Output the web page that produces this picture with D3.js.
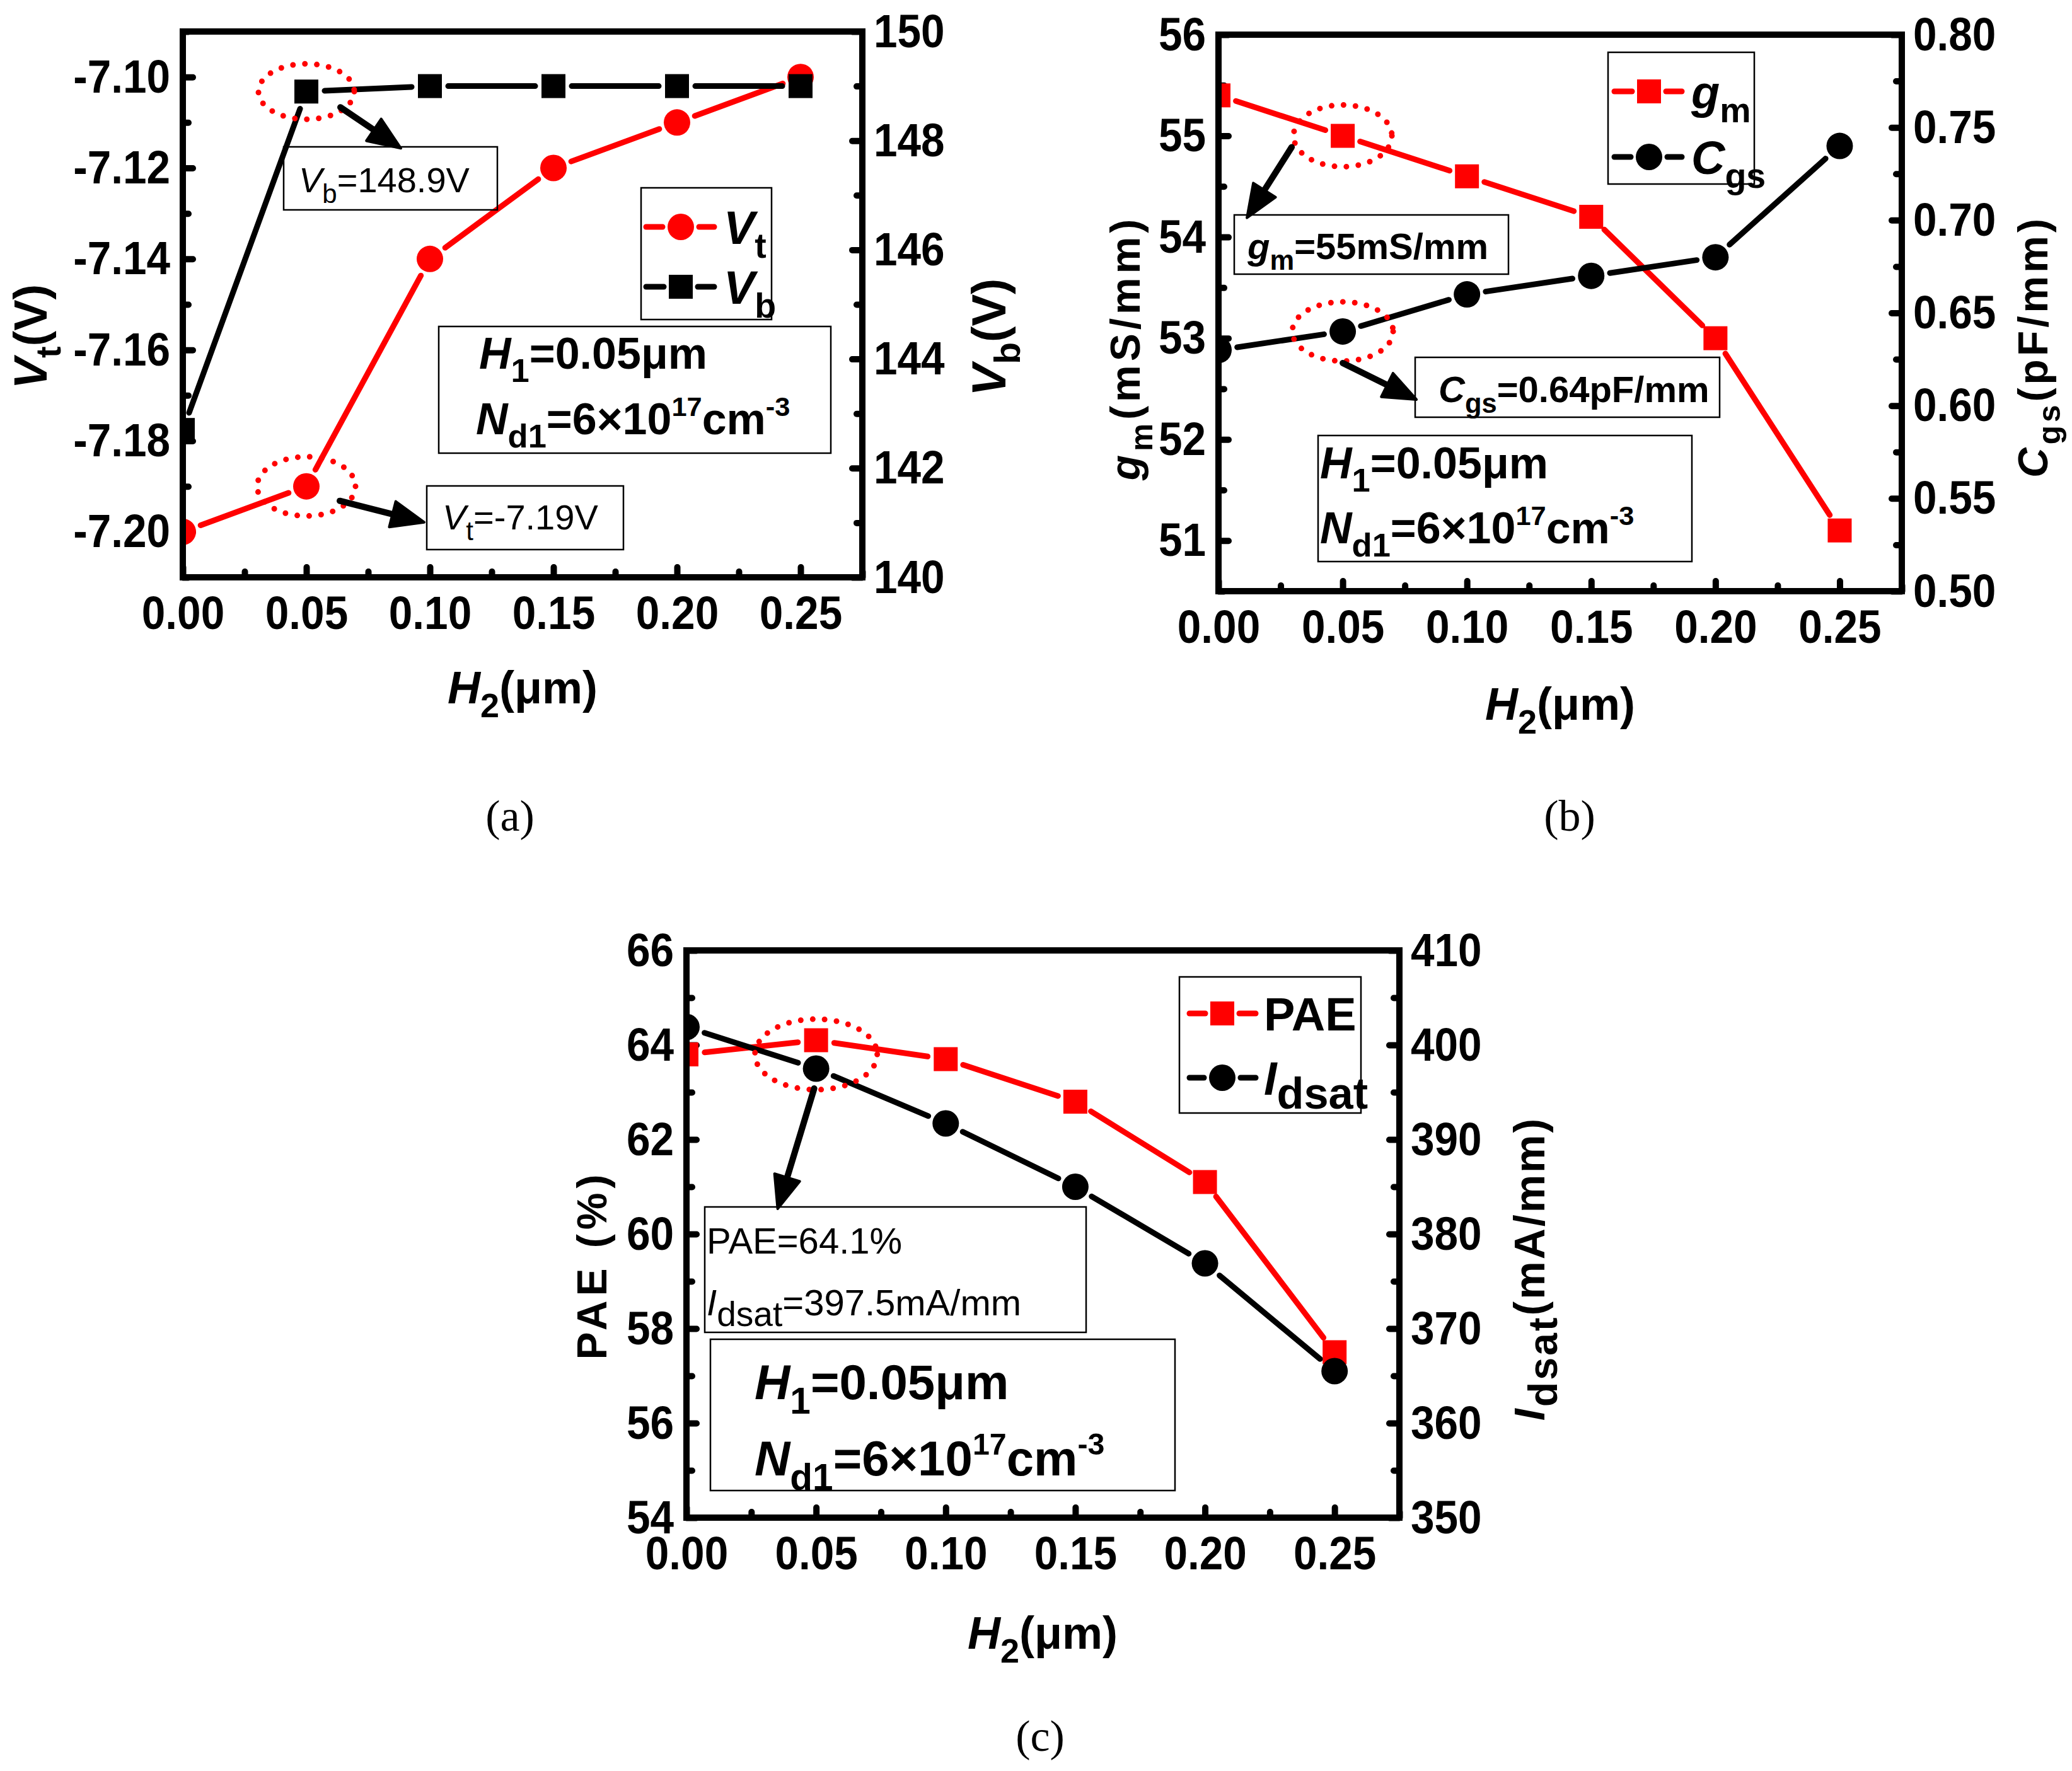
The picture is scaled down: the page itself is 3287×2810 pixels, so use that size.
<!DOCTYPE html>
<html>
<head>
<meta charset="utf-8">
<script src="https://cdn.jsdelivr.net/npm/d3@7"></script>
<style>
  body { margin: 0; background: #fff; }
  svg { display: block; }
</style>
</head>
<body>
<div id="chart"></div>
<script>
// H2 values shared by all three panels
const h2 = [0, 0.05, 0.1, 0.15, 0.2, 0.25];

// (a) threshold voltage and breakdown voltage
const vt = [-7.2, -7.19, -7.14, -7.12, -7.11, -7.1];
const vb = [142.7, 148.9, 149.0, 149.0, 149.0, 149.0];

// (b) transconductance and gate capacitance
const gm = [55.4, 55.0, 54.6, 54.2, 53.0, 51.1];
const cgs = [0.63, 0.64, 0.66, 0.67, 0.68, 0.74];

// (c) PAE and saturation current
const pae = [63.8, 64.1, 63.7, 62.8, 61.1, 57.5];
const idsat = [401.9, 397.5, 391.7, 385.0, 376.9, 365.5];

// tick labels
const xTicks = [0, 0.05, 0.1, 0.15, 0.2, 0.25];
const vtTicks = [-7.2, -7.18, -7.16, -7.14, -7.12, -7.1];
const vbTicks = [140, 142, 144, 146, 148, 150];
const gmTicks = [51, 52, 53, 54, 55, 56];
const cgsTicks = [0.5, 0.55, 0.6, 0.65, 0.7, 0.75, 0.8];
const paeTicks = [54, 56, 58, 60, 62, 64, 66];
const idsatTicks = [350, 360, 370, 380, 390, 400, 410];

const width = 3287;
const height = 2810;
const RED = "#ff0000";
const FONT = "'Liberation Sans', Arial, sans-serif";
const R = 21; // circle marker radius
const S = 38; // square marker side
const TICK_FS = 75; // tick label size
const SQUEEZE = 0.9; // tick labels are a bit condensed in the original

const svg = d3
  .select("#chart")
  .append("svg")
  .attr("width", width)
  .attr("height", height)
  .attr("viewBox", `0 0 ${width} ${height}`)
  .attr("font-family", FONT);

svg.append("rect").attr("width", width).attr("height", height).attr("fill", "#fff");

// text with italic / sub / superscript runs
// flags: i italic, s subscript, S large subscript, ^ superscript
function rich(text, parts, size) {
  let shift = 0;
  for (const [str, f = ""] of parts) {
    let fs = size;
    let off = 0;
    if (f.includes("s")) { fs = size * 0.75; off = size * 0.3; }
    if (f.includes("S")) { fs = size * 0.95; off = size * 0.3; }
    if (f.includes("^")) { fs = size * 0.62; off = -size * 0.42; }
    text
      .append("tspan")
      .attr("dy", off - shift)
      .attr("font-size", fs)
      .attr("font-style", f.includes("i") ? "italic" : null)
      .text(str);
    shift = off;
  }
  return text;
}

function label(g, x, y, parts, size, opts = {}) {
  const t = g
    .append("text")
    .attr("x", x)
    .attr("y", y)
    .attr("font-size", size)
    .attr("font-weight", opts.weight || "bold")
    .attr("text-anchor", opts.anchor || "start")
    .attr("letter-spacing", opts.spacing || null);
  if (opts.rotate) {
    t.attr("x", 0).attr("y", 0).attr("transform", `translate(${x},${y}) rotate(-90)`);
  }
  return rich(t, parts, size);
}

function minorOf(ticks, domain) {
  const step = ticks[1] - ticks[0];
  const out = [];
  for (let v = ticks[0] - step / 2; v <= domain[1] + 1e-9; v += step) {
    if (v >= domain[0] - 1e-9) out.push(v);
  }
  return out;
}

// 1) panel frame, scales and axes
function makePanel(id, frame, yl, yr) {
  const g = svg.append("g").attr("transform", `translate(${frame.x},${frame.y})`);
  const x = d3.scaleLinear().domain([0, 0.275]).range([0, frame.w]);
  const yL = d3.scaleLinear().domain(yl.domain).range([frame.h, 0]);
  const yR = d3.scaleLinear().domain(yr.domain).range([frame.h, 0]);

  g.append("clipPath")
    .attr("id", "clip-" + id)
    .append("rect")
    .attr("width", frame.w)
    .attr("height", frame.h);

  const axes = [
    [d3.axisBottom(x), xTicks, (d) => d.toFixed(2), `translate(0,${frame.h})`, 29, [0, 0.275], 0],
    [d3.axisLeft(yL), yl.ticks, yl.fmt, null, 20, yl.domain, -1],
    [d3.axisRight(yR), yr.ticks, yr.fmt, `translate(${frame.w},0)`, 18, yr.domain, 1],
  ];
  for (const [ax, ticks, fmt, tr, pad, dom, side] of axes) {
    const minor = g
      .append("g")
      .attr("transform", tr)
      .call(ax.tickValues(minorOf(ticks, dom)).tickSize(-9).tickFormat(""));
    const major = g
      .append("g")
      .attr("transform", tr)
      .call(ax.tickValues(ticks).tickSize(-16).tickPadding(pad).tickFormat(fmt));
    for (const a of [minor, major]) {
      a.select(".domain").remove();
      a.selectAll("line").attr("stroke-width", 10).attr("stroke-linecap", "round");
      a.attr("font-size", TICK_FS).attr("font-family", FONT).attr("font-weight", "bold");
    }
    // condense the labels horizontally, keeping their anchor point
    major
      .selectAll("text")
      .attr("x", side === 0 ? 0 : (side * pad) / SQUEEZE)
      .attr("transform", `scale(${SQUEEZE},1)`);
  }

  const data = g.append("g").attr("clip-path", `url(#clip-${id})`);
  const over = g.append("g");
  return { g, data, over, x, yL, yR, frame };
}

function drawFrame(p) {
  p.g.append("rect")
    .attr("width", p.frame.w)
    .attr("height", p.frame.h)
    .attr("fill", "none")
    .attr("stroke", "#000")
    .attr("stroke-width", 10);
}

function marker(g, type, cx, cy, color) {
  if (type === "circle") {
    g.append("circle").attr("cx", cx).attr("cy", cy).attr("r", R).attr("fill", color);
  } else {
    g.append("rect")
      .attr("x", cx - S / 2)
      .attr("y", cy - S / 2)
      .attr("width", S)
      .attr("height", S)
      .attr("fill", color);
  }
}

// 2) line + symbol series, segments stop short of the symbols
function drawSeries(p, y, values, color, type) {
  const pts = h2.map((d, i) => [p.x(d), y(values[i])]);
  const cut = type === "circle" ? R + 9 : S / 2 + 10;
  const segs = d3.pairs(pts).map(([a, b]) => {
    const L = Math.hypot(b[0] - a[0], b[1] - a[1]);
    const ux = (b[0] - a[0]) / L;
    const uy = (b[1] - a[1]) / L;
    return [a[0] + ux * cut, a[1] + uy * cut, b[0] - ux * cut, b[1] - uy * cut];
  });
  p.data
    .selectAll(null)
    .data(segs)
    .join("line")
    .attr("x1", (d) => d[0])
    .attr("y1", (d) => d[1])
    .attr("x2", (d) => d[2])
    .attr("y2", (d) => d[3])
    .attr("stroke", color)
    .attr("stroke-width", 9)
    .attr("stroke-linecap", "round");
  pts.forEach(([cx, cy]) => marker(p.data, type, cx, cy, color));
}

function legendEntry(g, x0, x1, xm, y, color, type, parts, tx) {
  const gap = (type === "circle" ? R : S / 2) + 8;
  for (const [a, b] of [[x0, xm - gap], [xm + gap, x1]]) {
    g.append("line")
      .attr("x1", a).attr("x2", b).attr("y1", y).attr("y2", y)
      .attr("stroke", color).attr("stroke-width", 9).attr("stroke-linecap", "round");
  }
  marker(g, type, xm, y, color);
  label(g, tx, y + 27, parts, 74);
}

function box(g, x, y, w, h) {
  g.append("rect")
    .attr("x", x).attr("y", y).attr("width", w).attr("height", h)
    .attr("fill", "none").attr("stroke", "#000").attr("stroke-width", 2.5);
}

function dottedEllipse(g, cx, cy, rx, ry) {
  g.append("ellipse")
    .attr("cx", cx).attr("cy", cy).attr("rx", rx).attr("ry", ry)
    .attr("fill", "none")
    .attr("stroke", RED)
    .attr("stroke-width", 9)
    .attr("stroke-linecap", "round")
    .attr("stroke-dasharray", "0 19");
}

function arrow(g, x1, y1, x2, y2) {
  const L = Math.hypot(x2 - x1, y2 - y1);
  const ux = (x2 - x1) / L;
  const uy = (y2 - y1) / L;
  const hl = 52;
  const hw = 21;
  const bx = x2 - ux * hl;
  const by = y2 - uy * hl;
  g.append("line")
    .attr("x1", x1).attr("y1", y1).attr("x2", bx + ux * 6).attr("y2", by + uy * 6)
    .attr("stroke", "#000").attr("stroke-width", 10).attr("stroke-linecap", "round");
  g.append("path")
    .attr("d", `M${x2},${y2}L${bx - uy * hw},${by + ux * hw}L${bx + uy * hw},${by - ux * hw}Z`)
    .attr("fill", "#000").attr("stroke", "#000").attr("stroke-width", 4).attr("stroke-linejoin", "round");
}

const H1 = [["H", "i"], ["1", "s"], ["=0.05μm"]];
const ND1 = [["N", "i"], ["d1", "s"], ["=6×10"], ["17", "^"], ["cm"], ["-3", "^"]];
const H2LABEL = [["H", "i"], ["2", "s"], ["(μm)"]];

// 3) panel (a)
function panelA() {
  const p = makePanel(
    "a",
    { x: 290, y: 50, w: 1078, h: 866 },
    { domain: [-7.21, -7.09], ticks: vtTicks, fmt: (d) => d.toFixed(2) },
    { domain: [140, 150], ticks: vbTicks, fmt: (d) => String(d) }
  );
  drawSeries(p, p.yL, vt, RED, "circle");
  drawSeries(p, p.yR, vb, "#000", "square");
  drawFrame(p);
  const g = p.over;

  const pb = [p.x(h2[1]), p.yR(vb[1])];
  dottedEllipse(g, pb[0], pb[1], 76, 44);
  arrow(g, pb[0] + 54, pb[1] + 25, pb[0] + 150, pb[1] + 90);
  box(g, 160, 183, 339, 100);
  label(g, 184, 255, [["V", "i"], ["b", "s"], ["=148.9V"]], 56, { weight: "normal" });

  const pt = [p.x(h2[1]), p.yL(vt[1])];
  dottedEllipse(g, pt[0], pt[1], 78, 47);
  arrow(g, pt[0] + 53, pt[1] + 23, pt[0] + 187, pt[1] + 57);
  box(g, 387, 721, 312, 101);
  label(g, 412, 790, [["V", "i"], ["t", "s"], ["=-7.19V"]], 56, { weight: "normal" });

  box(g, 727, 248, 207, 209);
  legendEntry(g, 735, 843, 790, 310, RED, "circle", [["V", "i"], ["t", "s"]], 858);
  legendEntry(g, 735, 843, 790, 405, "#000", "square", [["V", "i"], ["b", "s"]], 858);

  box(g, 406, 468, 622, 201);
  label(g, 470, 535, H1, 70);
  label(g, 465, 639, ND1, 70);

  label(svg, 74, 534, [["V", "i"], ["t", "s"], ["(V)"]], 74, { anchor: "middle", rotate: true });
  label(svg, 1595, 535, [["V", "i"], ["b", "s"], ["(V)"]], 76, { anchor: "middle", rotate: true });
  label(svg, 829, 1116, H2LABEL, 72, { anchor: "middle" });
}

// 4) panel (b)
function panelB() {
  const p = makePanel(
    "b",
    { x: 1933, y: 55, w: 1084, h: 883 },
    { domain: [50.5, 56], ticks: gmTicks, fmt: (d) => String(d) },
    { domain: [0.5, 0.8], ticks: cgsTicks, fmt: (d) => d.toFixed(2) }
  );
  drawSeries(p, p.yL, gm, RED, "square");
  drawSeries(p, p.yR, cgs, "#000", "circle");
  drawFrame(p);
  const g = p.over;

  box(g, 618, 28, 232, 209);
  legendEntry(g, 628, 735, 683, 90, RED, "square", [["g", "i"], ["m", "s"]], 750);
  legendEntry(g, 628, 735, 683, 194, "#000", "circle", [["C", "i"], ["gs", "s"]], 750);

  const pg = [p.x(h2[1]), p.yL(gm[1])];
  dottedEllipse(g, pg[0], pg[1], 78, 49);
  arrow(g, pg[0] - 81, pg[1] + 18, pg[0] - 152, pg[1] + 130);
  box(g, 25, 286, 435, 94);
  label(g, 46, 356, [["g", "i"], ["m", "s"], ["=55mS/mm"]], 58);

  const pc = [p.x(h2[1]), p.yR(cgs[1])];
  dottedEllipse(g, pc[0], pc[1], 80, 47);
  arrow(g, pc[0], pc[1] + 50, pc[0] + 117, pc[1] + 108);
  box(g, 312, 512, 483, 95);
  label(g, 349, 583, [["C", "i"], ["gs", "s"], ["=0.64pF/mm"]], 58);

  box(g, 158, 636, 593, 200);
  label(g, 161, 704, H1, 70);
  label(g, 161, 807, ND1, 70);

  label(svg, 1808, 552, [["g", "i"], ["m", "s"], ["(mS/mm)"]], 66, { anchor: "middle", rotate: true, spacing: 6 });
  label(svg, 3248, 550, [["C", "i"], ["gs", "s"], ["(pF/mm)"]], 66, { anchor: "middle", rotate: true, spacing: 5 });
  label(svg, 2475, 1142, H2LABEL, 72, { anchor: "middle" });
}

// 5) panel (c)
function panelC() {
  const p = makePanel(
    "c",
    { x: 1089, y: 1508, w: 1131, h: 900 },
    { domain: [54, 66], ticks: paeTicks, fmt: (d) => String(d) },
    { domain: [350, 410], ticks: idsatTicks, fmt: (d) => String(d) }
  );
  drawSeries(p, p.yL, pae, RED, "square");
  drawSeries(p, p.yR, idsat, "#000", "circle");
  drawFrame(p);
  const g = p.over;

  box(g, 782, 42, 288, 216);
  legendEntry(g, 798, 903, 850, 100, RED, "square", [["PAE"]], 916);
  legendEntry(g, 798, 903, 850, 202, "#000", "circle", [["I", "i"], ["dsat", "S"]], 916);

  const pc = [p.x(h2[1]), (p.yL(pae[1]) + p.yR(idsat[1])) / 2];
  dottedEllipse(g, pc[0], pc[1], 97, 56);
  arrow(g, pc[0] - 3, pc[1] + 54, pc[0] - 61, pc[1] + 245);
  box(g, 29, 407, 605, 199);
  label(g, 32, 481, [["PAE=64.1%"]], 58, { weight: "normal" });
  label(g, 32, 579, [["I", "i"], ["dsat", "S"], ["=397.5mA/mm"]], 58, { weight: "normal" });

  box(g, 38, 617, 737, 240);
  label(g, 108, 712, H1, 78);
  label(g, 108, 833, ND1, 78);

  label(svg, 962, 2007, [["PAE (%)"]], 66, { anchor: "middle", rotate: true, spacing: 7 });
  label(svg, 2450, 2013, [["I", "i"], ["dsat", "S"], ["(mA/mm)"]], 68, { anchor: "middle", rotate: true, spacing: 3 });
  label(svg, 1654, 2616, H2LABEL, 72, { anchor: "middle" });
}

panelA();
panelB();
panelC();

// sub-figure captions
for (const [t, x, y] of [["(a)", 809, 1318], ["(b)", 2490, 1318], ["(c)", 1650, 2778]]) {
  svg.append("text")
    .attr("x", x).attr("y", y)
    .attr("text-anchor", "middle")
    .attr("font-family", "'Liberation Serif', 'Times New Roman', serif")
    .attr("font-size", 70)
    .text(t);
}
</script>
</body>
</html>
